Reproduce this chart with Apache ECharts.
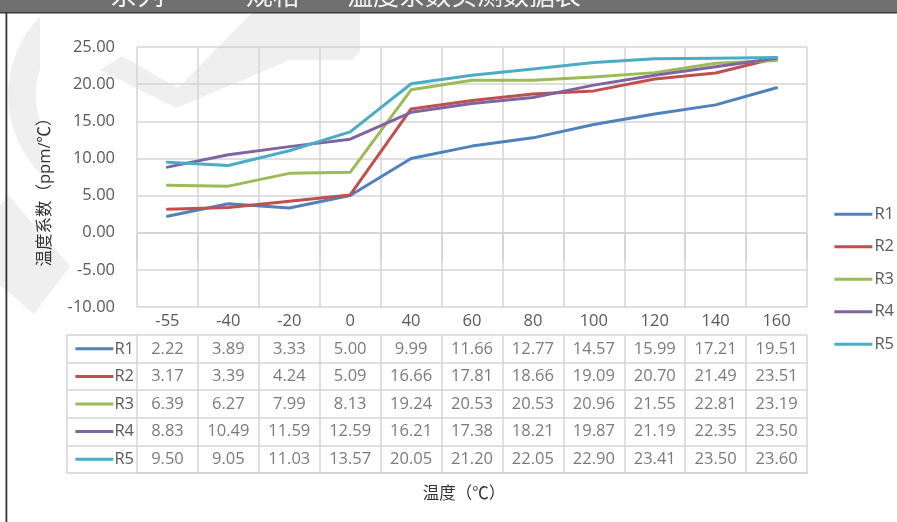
<!DOCTYPE html>
<html>
<head>
<meta charset="utf-8">
<script src="https://cdn.jsdelivr.net/npm/echarts@6/dist/echarts.min.js"></script>
<style>
html,body{margin:0;padding:0;background:#fff;}
#chart{width:897px;height:522px;}
</style>
</head>
<body>
<div id="chart"></div>
<script>
// ---- data ----
const categories = ['-55', '-40', '-20', '0', '40', '60', '80', '100', '120', '140', '160'];
const seriesNames = ['R1', 'R2', 'R3', 'R4', 'R5'];
const R1 = [2.22, 3.89, 3.33, 5.00, 9.99, 11.66, 12.77, 14.57, 15.99, 17.21, 19.51];
const R2 = [3.17, 3.39, 4.24, 5.09, 16.66, 17.81, 18.66, 19.09, 20.70, 21.49, 23.51];
const R3 = [6.39, 6.27, 7.99, 8.13, 19.24, 20.53, 20.53, 20.96, 21.55, 22.81, 23.19];
const R4 = [8.83, 10.49, 11.59, 12.59, 16.21, 17.38, 18.21, 19.87, 21.19, 22.35, 23.50];
const R5 = [9.50, 9.05, 11.03, 13.57, 20.05, 21.20, 22.05, 22.90, 23.41, 23.50, 23.60];
const colors = ['#4F81BD', '#C0504D', '#9BBB59', '#8064A2', '#4BACC6'];
const yTicks = { min: -10, max: 25, interval: 5 };
const yAxisTitle = '温度系数（ppm/℃）';
const xAxisTitle = '温度（℃）';

const allSeries = [R1, R2, R3, R4, R5];
const FONT = "'Open Sans', 'Noto Sans CJK SC', sans-serif";
const FS = 16.5;
const TXT = '#595959';
const GRID = '#d4d4d4';

const chart = echarts.init(document.getElementById('chart'));

const tableData = [];
allSeries.forEach((arr, si) => {
  arr.forEach((v, ci) => tableData.push([ci, si, v]));
});

const rich = {};
seriesNames.forEach((n, i) => {
  rich['l' + i] = { width: 38, height: 3, backgroundColor: colors[i] };
});
rich.t = { color: TXT, fontSize: FS, fontFamily: FONT, padding: [0, 0, 0, 1] };

const option = {
  backgroundColor: '#ffffff',
  animation: false,
  textStyle: { fontFamily: FONT },
  color: colors,
  legend: {
    data: seriesNames,
    orient: 'vertical',
    right: 3,
    top: 206,
    icon: 'rect',
    itemWidth: 38,
    itemHeight: 3,
    itemGap: 16,
    padding: 0,
    textStyle: { color: TXT, fontSize: FS, fontFamily: FONT, padding: [0, 0, 0, -3] }
  },
  grid: [
    { left: 137, top: 47, width: 670, height: 260, containLabel: false },
    { left: 137, top: 335, width: 670, height: 138, containLabel: false }
  ],
  xAxis: [
    {
      type: 'category', gridIndex: 0, data: categories, boundaryGap: true,
      axisLine: { show: true, lineStyle: { color: GRID, width: 1.5 } },
      axisTick: { show: true, alignWithLabel: false, length: 28, interval: 0, lineStyle: { color: GRID, width: 1.5 } },
      axisLabel: { interval: 0, margin: 6, color: TXT, fontSize: FS, fontFamily: FONT },
      splitLine: { show: true, interval: 0, lineStyle: { color: GRID, width: 1.5 } }
    },
    {
      type: 'category', gridIndex: 1, data: categories, boundaryGap: true,
      axisLine: { show: true, lineStyle: { color: GRID, width: 1.5 } },
      axisTick: { show: false },
      axisLabel: { show: false },
      splitLine: { show: true, interval: 0, lineStyle: { color: GRID, width: 1.5 } }
    }
  ],
  yAxis: [
    {
      type: 'value', gridIndex: 0, min: yTicks.min, max: yTicks.max, interval: yTicks.interval,
      axisLine: { show: false }, axisTick: { show: false },
      axisLabel: { margin: 22, color: TXT, fontSize: FS, fontFamily: FONT, formatter: v => v.toFixed(2) },
      splitLine: { show: true, lineStyle: { color: GRID, width: 1.5 } }
    },
    {
      type: 'category', gridIndex: 1, data: seriesNames, inverse: true, boundaryGap: true,
      axisLine: { show: false },
      axisTick: { show: true, alignWithLabel: false, length: 70, interval: 0, lineStyle: { color: GRID, width: 1.5 } },
      axisLabel: {
        interval: 0, margin: 3, align: 'right',
        formatter: (v, i) => '{l' + i + '|}{t|' + v + '}',
        rich: rich
      },
      splitLine: { show: true, interval: 0, lineStyle: { color: GRID, width: 1.5 } }
    },
    {
      type: 'category', gridIndex: 1, data: seriesNames, inverse: true, position: 'left', offset: 70,
      axisLine: { show: true, lineStyle: { color: GRID, width: 1.5 } },
      axisTick: { show: false }, axisLabel: { show: false }, splitLine: { show: false }
    }
  ],
  graphic: [
    // watermark approximations
    { type: 'polygon', z: -10, silent: true, shape: { points: [[100, 70], [122, 56], [178, 88], [252, 13], [360, 13], [360, 52], [352, 60], [290, 60], [176, 108]] }, style: { fill: '#efefef' } },
    { type: 'ring', z: -10, silent: true, shape: { cx: 120, cy: 95, r: 112, r0: 84 }, style: { fill: '#efefef' }, clipPath: { type: 'rect', shape: { x: 0, y: 13, width: 40, height: 160 } } },
    { type: 'polygon', z: -10, silent: true, shape: { points: [[0, 205], [8, 195], [70, 266], [34, 314], [0, 285]] }, style: { fill: '#efefef' } },
    // top header bar
    { type: 'rect', z: 10, silent: true, shape: { x: 0, y: 0, width: 897, height: 12 }, style: { fill: '#707070' } },
    { type: 'rect', z: 10, silent: true, shape: { x: 0, y: 12, width: 897, height: 1.5 }, style: { fill: '#3a3a3a' } },
    { type: 'text', z: 11, silent: true, x: 110, y: 8, style: { text: '系列', fill: '#f4f4f4', fontSize: 27, fontFamily: "'Noto Sans CJK SC', sans-serif", textVerticalAlign: 'bottom' } },
    { type: 'text', z: 11, silent: true, x: 246, y: 8, style: { text: '规格', fill: '#f4f4f4', fontSize: 27, fontFamily: "'Noto Sans CJK SC', sans-serif", textVerticalAlign: 'bottom' } },
    { type: 'text', z: 11, silent: true, x: 347, y: 8, style: { text: '温度系数实测数据表', fill: '#f4f4f4', fontSize: 26, fontFamily: "'Noto Sans CJK SC', sans-serif", textVerticalAlign: 'bottom' } },
    // left border
    { type: 'rect', z: 10, silent: true, shape: { x: 5.5, y: 12, width: 1.8, height: 510 }, style: { fill: '#333333' } },
    // axis titles
    { type: 'text', silent: true, x: 45, y: 188, rotation: Math.PI / 2, style: { text: yAxisTitle, fill: '#333333', fontSize: FS, fontFamily: FONT, align: 'center', verticalAlign: 'middle' } },
    { type: 'text', silent: true, x: 464, y: 494, style: { text: xAxisTitle, fill: '#333333', fontSize: FS, fontFamily: FONT, align: 'center', verticalAlign: 'middle' } }
  ],
  series: seriesNames.map((n, i) => ({
    name: n, type: 'line', xAxisIndex: 0, yAxisIndex: 0,
    data: allSeries[i], symbol: 'none', showSymbol: false,
    lineStyle: { width: 3, color: colors[i], cap: 'round', join: 'round' },
    itemStyle: { color: colors[i] }
  })).concat([{
    name: 'table', type: 'scatter', xAxisIndex: 1, yAxisIndex: 1,
    data: tableData, symbolSize: 0, silent: true,
    label: { show: true, position: 'inside', color: TXT, fontSize: FS, fontFamily: FONT, formatter: p => p.value[2].toFixed(2) }
  }])
};
chart.setOption(option);
</script>
</body>
</html>
